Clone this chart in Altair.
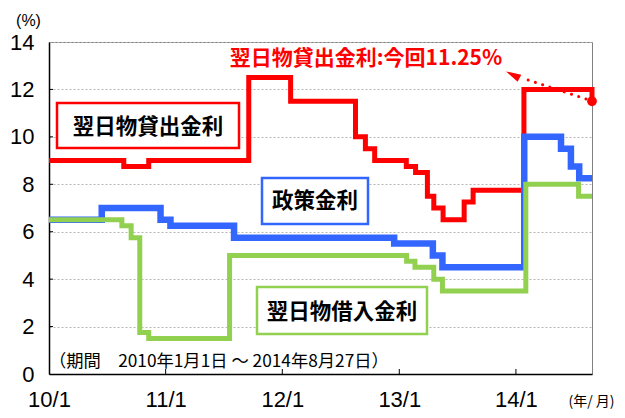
import altair as alt
import pandas as pd

# ---- data ----
red_dates = ["2010-01-01", "2010-08-23", "2010-11-09", "2011-09-18", "2012-01-27",
             "2012-08-17", "2012-09-17", "2012-10-16", "2013-01-23", "2013-02-21",
             "2013-03-30", "2013-04-19", "2013-05-18", "2013-07-23", "2013-08-20",
             "2014-01-26", "2014-08-27"]
red_values = [9.0, 8.75, 9.0, 12.5, 11.5, 10.0, 9.5, 9.0, 8.75, 8.5,
              7.5, 7.0, 6.5, 7.25, 7.75, 12.0, 11.5]

blue_dates = ["2010-01-01", "2010-06-15", "2010-12-16", "2011-01-16", "2011-08-03",
              "2012-12-16", "2013-04-16", "2013-05-16", "2014-01-27", "2014-05-22",
              "2014-06-22", "2014-07-18", "2014-08-27"]
blue_values = [6.5, 7.0, 6.5, 6.25, 5.75, 5.5, 5.0, 4.5, 10.0, 9.5, 8.75, 8.25, 8.25]

green_dates = ["2010-01-01", "2010-08-17", "2010-09-15", "2010-10-12", "2010-11-09",
               "2011-07-20", "2013-01-24", "2013-02-19", "2013-04-19", "2013-05-16",
               "2014-02-01", "2014-07-16", "2014-08-27"]
green_values = [6.5, 6.25, 5.75, 1.75, 1.5, 5.0, 4.75, 4.5, 4.0, 3.5, 8.0, 7.5, 7.5]

x_tick_dates = ["2011-01-01", "2012-01-01", "2013-01-01", "2014-01-01"]
y_tick_values = [2, 4, 6, 8, 10, 12]

label_red = "翌日物貸出金利"
label_blue = "政策金利"
label_green = "翌日物借入金利"
note_red = "翌日物貸出金利:今回11.25%"
footnote = "（期間　2010年1月1日 ～ 2014年8月27日）"
y_title = "(%)"
x_title = "(年/ 月)"

RED = "#FF0000"
BLUE = "#3366FF"
GREEN = "#92D050"
JP = "Noto Sans CJK JP"

red_df = pd.DataFrame({"date": red_dates, "value": red_values})
blue_df = pd.DataFrame({"date": blue_dates, "value": blue_values})
green_df = pd.DataFrame({"date": green_dates, "value": green_values})
xtick_df = pd.DataFrame({"date": x_tick_dates})
ytick_df = pd.DataFrame({"value": y_tick_values})
one = pd.DataFrame({"k": [0]})

xscale = alt.Scale(type="utc", domain=[alt.DateTime(year=2010, month=1, date=1, utc=True),
                                       alt.DateTime(year=2014, month=8, date=27, utc=True)])
yscale = alt.Scale(domain=[0, 14], nice=False, zero=False)

xaxis = alt.Axis(
    values=[alt.DateTime(year=y, month=1, date=1, utc=True) for y in range(2010, 2015)],
    labelExpr="utcFormat(datum.value, '%y') + '/1'",
    ticks=False, grid=False, labelFont="Liberation Sans", labelFontSize=22,
    labelColor="black", labelPadding=15, labelFlush=False, labelOverlap=False,
    domainColor="black", domainWidth=1.5,
    title=x_title, titleFont=JP, titleFontSize=14, titleFontWeight="normal",
    titleColor="black", titleAngle=0, titleX=542, titleY=27, titleAlign="center",
    titleBaseline="middle",
)
yaxis = alt.Axis(
    values=list(range(0, 15, 2)), ticks=False, grid=True, gridColor="#b5b5b5",
    gridDash=[2, 2], gridWidth=1, labelFont="Liberation Sans", labelFontSize=22,
    labelColor="black", labelPadding=15, labelFlush=False, domainColor="black",
    domainWidth=1.5,
    title=y_title, titleFont="Liberation Sans", titleFontSize=16,
    titleFontWeight="normal", titleColor="black", titleAngle=0, titleX=-21,
    titleY=-22, titleAlign="center", titleBaseline="middle",
)

X = alt.X("date:T", scale=xscale, axis=xaxis)
Y = alt.Y("value:Q", scale=yscale, axis=yaxis)

def step(df, color, width):
    return alt.Chart(df).mark_line(interpolate="step-after", color=color,
                                   strokeWidth=width, strokeJoin="miter").encode(x=X, y=Y)

xticks = alt.Chart(xtick_df).mark_rule(color="black", strokeWidth=1).encode(
    x=alt.X("date:T", scale=xscale), y=alt.value(332), y2=alt.value(327))
yticks = alt.Chart(ytick_df).mark_rule(color="black", strokeWidth=1).encode(
    y=alt.Y("value:Q", scale=yscale), x=alt.value(0), x2=alt.value(4))

red_line = step(red_df, RED, 5)
blue_line = step(blue_df, BLUE, 6.5)
green_line = step(green_df, GREEN, 5)

dot = alt.Chart(red_df.tail(1)).mark_circle(color=RED, size=95, opacity=1).encode(
    x=alt.X("date:T", scale=xscale), y=alt.Y("value:Q", scale=yscale))

def box(x1, x2, y1, y2, color):
    return alt.Chart(one).mark_rect(fill="white", stroke=color, strokeWidth=2.5).encode(
        x=alt.value(x1), x2=alt.value(x2), y=alt.value(y1), y2=alt.value(y2))

def label(text, x, y, size=21.5, color="black", weight="bold", align="center", font=JP):
    return alt.Chart(one).mark_text(font=font, fontSize=size, fontWeight=weight,
                                    color=color, align=align, baseline="middle").encode(
        x=alt.value(x), y=alt.value(y), text=alt.value(text))

boxes = [
    box(8, 190, 61, 106, RED),
    box(213, 319, 136, 182, BLUE),
    box(208, 378, 245, 292, GREEN),
]
texts = [
    label(label_red, 99, 86),
    label(label_blue, 266, 160),
    label(label_green, 293, 271),
    label(note_red, 317, 17, size=21, color=RED),
    label(footnote, 0, 320, size=17.3, weight="normal", align="left"),
]

arrow_line = alt.Chart(one).mark_rule(color=RED, strokeWidth=3, strokeDash=[0.1, 7.5],
                                      strokeCap="round").encode(
    x=alt.value(537), x2=alt.value(476), y=alt.value(57), y2=alt.value(37))
arrow_head = alt.Chart(one).mark_point(shape="M0,-1L0.4,0.5L-0.4,0.5Z", filled=True,
                                       color=RED, size=400, opacity=1, angle=297).encode(
    x=alt.value(466), y=alt.value(34))

chart = alt.layer(
    xticks, yticks, red_line, blue_line, green_line, dot, *boxes, *texts,
    arrow_line, arrow_head
).properties(
    width=543, height=332,
    autosize=alt.AutoSizeParams(type="none"),
    padding={"left": 41, "top": 34, "right": 24, "bottom": 36},
    background="white",
).configure_view(stroke="#808080", strokeWidth=1)

chart.save("out.html", embed_options={"renderer": "svg", "actions": False})
